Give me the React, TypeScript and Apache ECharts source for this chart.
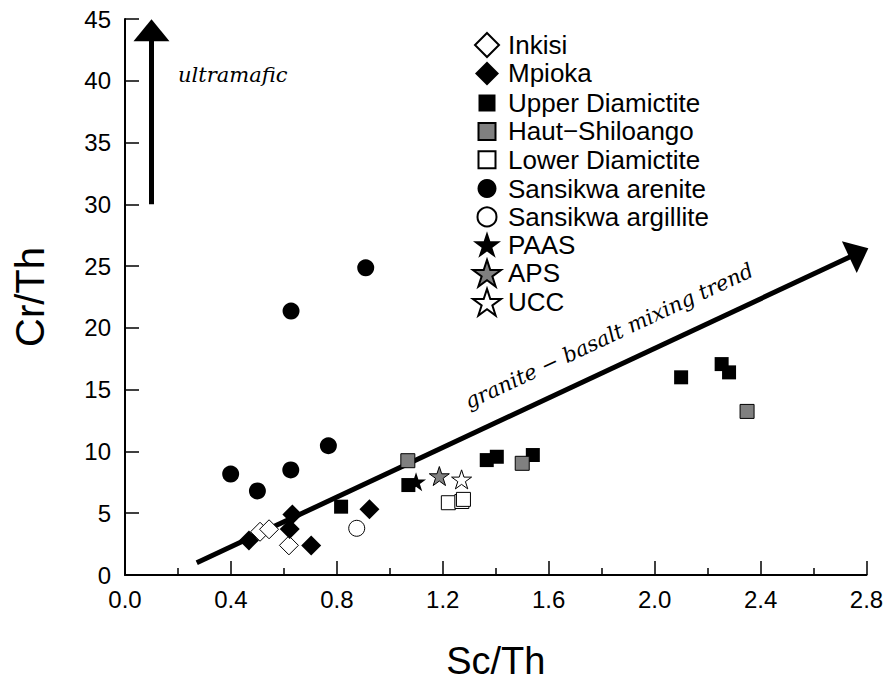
import React, { useEffect, useRef } from "react";
import * as echarts from "echarts";

// ---- data (Sc/Th, Cr/Th) ----
const inkisi = [[0.51, 3.5], [0.544, 3.7], [0.619, 2.4]];
const mpioka = [[0.468, 2.8], [0.632, 4.9], [0.622, 3.72], [0.703, 2.38], [0.923, 5.32]];
const upperDiamictite = [[0.816, 5.53], [1.07, 7.28], [1.366, 9.3], [1.404, 9.57], [1.54, 9.71], [2.1, 16.0], [2.253, 17.07], [2.281, 16.4]];
const hautShiloango = [[1.068, 9.25], [1.5, 9.04], [2.349, 13.24]];
const lowerDiamictite = [[1.221, 5.85], [1.272, 5.95], [1.278, 6.12]];
const sansikwaArenite = [[0.399, 8.17], [0.5, 6.8], [0.626, 8.5], [0.768, 10.46], [0.909, 24.86], [0.627, 21.36]];
const sansikwaArgillite = [[0.875, 3.78]];
const paas = [[1.099, 7.55]];
const aps = [[1.187, 8.01]];
const ucc = [[1.271, 7.74]];

// annotation arrows (data coords)
const mixingTrend = [[0.271, 1.0], [2.771, 26.08]];
const ultramaficArrow = [[0.1, 30], [0.1, 44.09]];

// axes
const X_MIN = 0, X_MAX = 2.8, X_STEP = 0.4;
const Y_MIN = 0, Y_MAX = 45, Y_STEP = 5;

const STAR = "path://M100,0L122.45,69.1L195.11,69.1L136.33,111.8L158.78,180.9L100,138.2L41.22,180.9L63.67,111.8L4.89,69.1L77.55,69.1Z";
const SQUARE = "path://M0,0L100,0L100,100L0,100Z";
const DIAMOND = "path://M50,0L100,50L50,100L0,50Z";
const SANS = "Liberation Sans";
const SERIF = "DejaVu Serif";

function sc(name: string, data: number[][], symbol: string, size: number, color: string, border: boolean) {
  return {
    type: "scatter",
    name,
    data,
    symbol,
    symbolSize: size,
    symbolKeepAspect: true,
    itemStyle: { color, borderColor: "#000", borderWidth: border ? 1 : 0, opacity: 1 },
    emphasis: { disabled: true },
    z: 3,
  };
}

// legend block: icon centred at x=486, text starting at x=507
function legend(names: string[], top: number, h: number) {
  const ICON_CX = 486;
  const TEXT_X = 507;
  return {
    data: names,
    orient: "vertical",
    left: ICON_CX - h / 2,
    top,
    padding: 0,
    itemGap: 0.4,
    itemWidth: h,
    itemHeight: h,
    symbolKeepAspect: true,
    selectedMode: false,
    textStyle: {
      fontSize: 26,
      fontFamily: SANS,
      color: "#000",
      lineHeight: 28,
      padding: [0, 0, 0, Math.max(0, TEXT_X - (ICON_CX + h / 2 + 5))],
    },
  };
}

export default function App() {
  const ref = useRef<HTMLDivElement>(null);
  useEffect(() => {
    const chart = echarts.init(ref.current!, null, { renderer: "svg" });
    const axisCommon = {
      type: "value",
      axisLine: { show: true, onZero: false, lineStyle: { color: "#000", width: 2 } },
      axisTick: { show: true, inside: true, length: 14, lineStyle: { color: "#000", width: 1.5 } },
      splitLine: { show: false },
      nameLocation: "middle",
    };
    chart.setOption({
      animation: false,
      backgroundColor: "#fff",
      grid: { left: 125, right: 19.5, top: 19, bottom: 107, containLabel: false, outerBoundsMode: "none" },
      xAxis: {
        ...axisCommon,
        min: X_MIN,
        max: X_MAX,
        interval: X_STEP,
        minorTick: { show: true, splitNumber: 2, length: 7, lineStyle: { color: "#000", width: 1.5 } },
        axisLabel: { formatter: (v: number) => v.toFixed(1), fontSize: 24, color: "#000", fontFamily: SANS, margin: 12 },
        name: "Sc/Th",
        nameGap: 71,
        nameTextStyle: { fontSize: 38, color: "#000", fontFamily: SANS, lineHeight: 30 },
      },
      yAxis: {
        ...axisCommon,
        min: Y_MIN,
        max: Y_MAX,
        interval: Y_STEP,
        axisLabel: { fontSize: 24, color: "#000", fontFamily: SANS, margin: 14 },
        name: "Cr/Th",
        nameGap: 75,
        nameTextStyle: { fontSize: 40, color: "#000", fontFamily: SANS },
      },
      legend: [
        legend(["Inkisi", "Mpioka"], 31, 24),
        legend(["Upper Diamictite", "Haut−Shiloango", "Lower Diamictite"], 89, 17),
        legend(["Sansikwa arenite", "Sansikwa argillite"], 174.5, 19),
        legend(["PAAS", "APS", "UCC"], 230.5, 28),
      ],
      graphic: [
        {
          type: "text",
          x: 178,
          y: 75,
          silent: true,
          style: { text: "ultramafic", fontSize: 21, fontStyle: "italic", fontFamily: SERIF, fill: "#000", align: "left", verticalAlign: "middle" },
        },
        {
          type: "text",
          x: 609,
          y: 336,
          rotation: (25 * Math.PI) / 180,
          silent: true,
          style: { text: "granite − basalt mixing trend", fontSize: 21, fontStyle: "italic", fontFamily: SERIF, fill: "#000", align: "center", verticalAlign: "middle" },
        },
      ],
      series: [
        {
          type: "lines",
          coordinateSystem: "cartesian2d",
          data: [{ coords: mixingTrend }],
          symbol: ["none", "triangle"],
          symbolSize: [0, [35, 21]],
          lineStyle: { color: "#000", width: 5, opacity: 1, curveness: 0 },
          silent: true,
          z: 1,
        },
        {
          type: "lines",
          coordinateSystem: "cartesian2d",
          data: [{ coords: ultramaficArrow }],
          symbol: ["none", "triangle"],
          symbolSize: [0, [36, 22]],
          lineStyle: { color: "#000", width: 5, opacity: 1, curveness: 0 },
          silent: true,
          z: 1,
        },
        sc("Inkisi", inkisi, DIAMOND, 19, "#fff", true),
        sc("Mpioka", mpioka, DIAMOND, 20, "#000", false),
        sc("Upper Diamictite", upperDiamictite, SQUARE, 14, "#000", false),
        sc("Haut−Shiloango", hautShiloango, SQUARE, 14, "#808080", true),
        sc("Lower Diamictite", lowerDiamictite, SQUARE, 14, "#fff", true),
        sc("Sansikwa arenite", sansikwaArenite, "circle", 17, "#000", false),
        sc("Sansikwa argillite", sansikwaArgillite, "circle", 16, "#fff", true),
        sc("PAAS", paas, STAR, 20, "#000", false),
        sc("APS", aps, STAR, 20, "#808080", true),
        sc("UCC", ucc, STAR, 20, "#fff", true),
      ],
    });
    return () => chart.dispose();
  }, []);
  return <div ref={ref} style={{ width: 886, height: 682, position: "absolute", left: 0, top: 0 }} />;
}
